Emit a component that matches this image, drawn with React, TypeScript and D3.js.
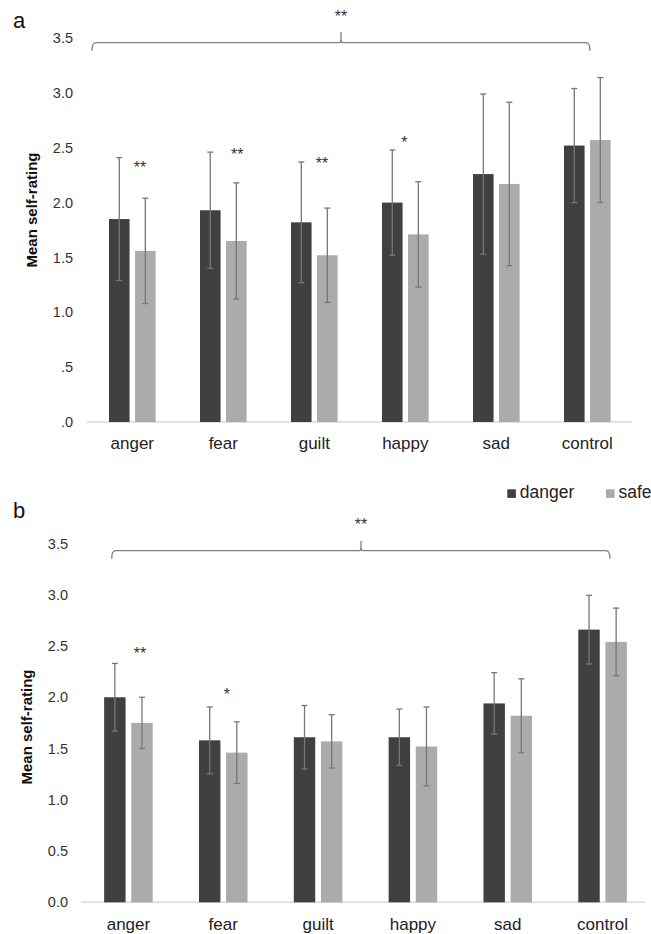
import { useEffect, useRef } from "react";
import * as d3 from "d3";

const width = 651;
const height = 934;

const categories = ["anger", "fear", "guilt", "happy", "sad", "control"];
const series = ["danger", "safe"];

// panel a
const dangerMeanA = [1.85, 1.93, 1.82, 2.0, 2.26, 2.52];
const dangerErrA = [0.56, 0.53, 0.55, 0.48, 0.73, 0.52];
const safeMeanA = [1.56, 1.65, 1.52, 1.71, 2.17, 2.57];
const safeErrA = [0.48, 0.53, 0.43, 0.48, 0.745, 0.57];

// panel b
const dangerMeanB = [2.0, 1.58, 1.61, 1.61, 1.94, 2.66];
const dangerErrB = [0.33, 0.325, 0.31, 0.275, 0.3, 0.335];
const safeMeanB = [1.75, 1.46, 1.57, 1.52, 1.82, 2.54];
const safeErrB = [0.25, 0.3, 0.26, 0.385, 0.36, 0.33];

const tickValues = [0, 0.5, 1, 1.5, 2, 2.5, 3, 3.5];
const tickLabelsA = [".0", ".5", "1.0", "1.5", "2.0", "2.5", "3.0", "3.5"];
const tickLabelsB = ["0.0", "0.5", "1.0", "1.5", "2.0", "2.5", "3.0", "3.5"];

const sigCatsA = ["anger", "fear", "guilt", "happy"];
const sigLabelsA = ["**", "**", "**", "*"];
const sigLevelsA = [2.35, 2.47, 2.39, 2.58];
const sigCatsB = ["anger", "fear"];
const sigLabelsB = ["**", "*"];
const sigLevelsB = [2.46, 2.06];

const colors = { danger: "#404040", safe: "#ababab" };
const font = "'Liberation Sans', Arial, sans-serif";

const panels = [
  {
    letter: "a", letterY: 28,
    dMean: dangerMeanA, dErr: dangerErrA, sMean: safeMeanA, sErr: safeErrA,
    ticks: tickLabelsA, sigCats: sigCatsA, sigLabels: sigLabelsA, sigLevels: sigLevelsA,
    sigDx: [7.7, 14, 7.7, -1],
    x0: 86.8, x1: 632.8, axisEnd: 632, y0: 422, yTop: 38.05,
    tickX: 73, titleX: 32, titleY: 210, labelDy: 27,
    bracket: { x1: 92, x2: 590, xc: 341, y: 42.7, top: 32, starY: 13 },
    legend: false,
  },
  {
    letter: "b", letterY: 518,
    dMean: dangerMeanB, dErr: dangerErrB, sMean: safeMeanB, sErr: safeErrB,
    ticks: tickLabelsB, sigCats: sigCatsB, sigLabels: sigLabelsB, sigLevels: sigLevelsB,
    sigDx: [11.5, 3.7],
    x0: 81, x1: 650, axisEnd: 645, y0: 902.3, yTop: 543.5,
    tickX: 68, titleX: 27, titleY: 727, labelDy: 28,
    bracket: { x1: 111.7, x2: 610, xc: 361, y: 550.7, top: 541, starY: 521 },
    legend: true,
  },
];

const App = () => {
  const ref = useRef<SVGSVGElement>(null);

  useEffect(() => {
    const svg = d3.select(ref.current);
    svg.selectAll("*").remove();

    panels.forEach((p) => {
      const g = svg.append("g");
      const x = d3.scaleBand().domain(categories).range([p.x0, p.x1]);
      const xs = d3.scaleBand().domain(series).range([0, x.bandwidth()])
        .paddingInner(0.21).paddingOuter(0.853);
      const y = d3.scaleLinear().domain([0, 3.5]).range([p.y0, p.yTop]);

      // letter
      g.append("text").attr("x", 13).attr("y", p.letterY)
        .attr("font-family", font).attr("font-size", 22).attr("fill", "#111")
        .text(p.letter);

      // y tick labels
      g.selectAll(".tick").data(tickValues).enter().append("text")
        .attr("x", p.tickX).attr("y", (d) => y(d))
        .attr("dy", "0.35em").attr("text-anchor", "end")
        .attr("font-family", font).attr("font-size", 14.5).attr("fill", "#333")
        .text((d, i) => p.ticks[i]);

      // y title
      g.append("text")
        .attr("transform", `translate(${p.titleX},${p.titleY}) rotate(-90)`)
        .attr("text-anchor", "middle").attr("dy", "0.35em")
        .attr("font-family", font).attr("font-size", 15).attr("font-weight", "bold")
        .attr("fill", "#111")
        .text("Mean self-rating");

      // axis line
      g.append("line").attr("x1", p.x0).attr("x2", p.axisEnd)
        .attr("y1", p.y0).attr("y2", p.y0)
        .attr("stroke", "#d9d9d9").attr("stroke-width", 1.5);

      const rows = categories.flatMap((c, i) => [
        { cat: c, s: "danger", v: p.dMean[i], e: p.dErr[i] },
        { cat: c, s: "safe", v: p.sMean[i], e: p.sErr[i] },
      ]);

      // bars
      g.selectAll(".bar").data(rows).enter().append("rect")
        .attr("x", (d) => x(d.cat)! + xs(d.s)!)
        .attr("width", xs.bandwidth())
        .attr("y", (d) => y(d.v))
        .attr("height", (d) => p.y0 - y(d.v))
        .attr("fill", (d) => colors[d.s as "danger" | "safe"]);

      // error bars
      const cx = (d: any) => x(d.cat)! + xs(d.s)! + xs.bandwidth() / 2;
      const eb = g.selectAll(".err").data(rows).enter().append("g")
        .attr("stroke", "#777").attr("stroke-width", 1.3).attr("fill", "none");
      eb.append("line").attr("x1", cx).attr("x2", cx)
        .attr("y1", (d) => y(d.v - d.e)).attr("y2", (d) => y(d.v + d.e));
      eb.append("line").attr("x1", (d) => cx(d) - 3).attr("x2", (d) => cx(d) + 3)
        .attr("y1", (d) => y(d.v + d.e)).attr("y2", (d) => y(d.v + d.e));
      eb.append("line").attr("x1", (d) => cx(d) - 3).attr("x2", (d) => cx(d) + 3)
        .attr("y1", (d) => y(d.v - d.e)).attr("y2", (d) => y(d.v - d.e));

      // category labels
      g.selectAll(".cat").data(categories).enter().append("text")
        .attr("x", (d) => x(d)! + x.bandwidth() / 2)
        .attr("y", p.y0 + p.labelDy)
        .attr("text-anchor", "middle")
        .attr("font-family", font).attr("font-size", 17).attr("fill", "#222")
        .text((d) => d);

      // pairwise significance
      g.selectAll(".sig").data(p.sigCats).enter().append("text")
        .attr("x", (d, i) => x(d)! + x.bandwidth() / 2 + p.sigDx[i])
        .attr("y", (d, i) => y(p.sigLevels[i]) + 9)
        .attr("text-anchor", "middle")
        .attr("font-family", font).attr("font-size", 16).attr("fill", "#333")
        .text((d, i) => p.sigLabels[i]);

      // omnibus bracket
      const b = p.bracket;
      const path = d3.path();
      path.moveTo(b.x1, b.y + 8);
      path.quadraticCurveTo(b.x1, b.y, b.x1 + 4, b.y);
      path.lineTo(b.xc - 2, b.y);
      path.quadraticCurveTo(b.xc, b.y, b.xc, b.y - 3);
      path.lineTo(b.xc, b.top);
      path.moveTo(b.xc, b.y - 3);
      path.quadraticCurveTo(b.xc, b.y, b.xc + 2, b.y);
      path.lineTo(b.x2 - 4, b.y);
      path.quadraticCurveTo(b.x2, b.y, b.x2, b.y + 8);
      g.append("path").attr("d", path.toString())
        .attr("fill", "none").attr("stroke", "#808080").attr("stroke-width", 1.3);
      g.append("text").attr("x", b.xc).attr("y", b.starY + 9)
        .attr("text-anchor", "middle")
        .attr("font-family", font).attr("font-size", 16).attr("fill", "#333")
        .text("**");

      if (p.legend) {
        const lg = g.append("g");
        const items = [
          { s: "danger", x: 507.3 },
          { s: "safe", x: 606 },
        ];
        lg.selectAll("rect").data(items).enter().append("rect")
          .attr("x", (d) => d.x).attr("y", 489.3).attr("width", 8.6).attr("height", 8.6)
          .attr("fill", (d) => colors[d.s as "danger" | "safe"]);
        lg.selectAll("text").data(items).enter().append("text")
          .attr("x", (d) => d.x + 12.5).attr("y", 497.7)
          .attr("font-family", font).attr("font-size", 17.5).attr("fill", "#222")
          .text((d) => d.s);
      }
    });
  }, []);

  return (
    <div style={{ position: "absolute", left: 0, top: 0 }}>
      <svg ref={ref} width={width} height={height} style={{ display: "block", background: "#fff" }}></svg>
    </div>
  );
};

export default App;
